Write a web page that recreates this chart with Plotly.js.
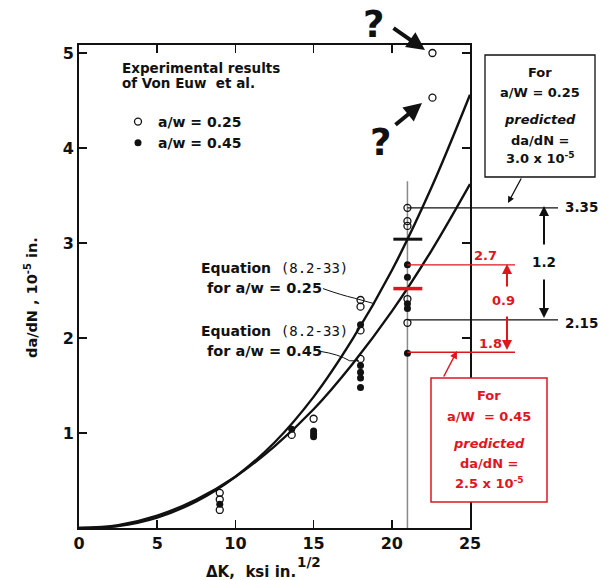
<!DOCTYPE html>
<html>
<head>
<meta charset="utf-8">
<script src="https://cdn.plot.ly/plotly-3.0.1.min.js"></script>
<style>html,body{margin:0;padding:0;background:#fff;}#chart{width:604px;height:580px;}</style>
</head>
<body>
<div id="chart"></div>
<script>
// ---- data ----
const xTickVals = [0, 5, 10, 15, 20, 25];
const yTickVals = [1, 2, 3, 4, 5];

// Open circles: a/w = 0.25
const open025X = [9, 9, 9, 13.6, 15, 18, 18, 18, 18, 21, 21, 21, 21, 21, 22.6, 22.6];
const open025Y = [0.37, 0.30, 0.19, 0.98, 1.15, 2.40, 2.33, 2.08, 1.78, 3.37, 3.23, 3.18, 2.41, 2.16, 5.0, 4.53];

// Filled circles: a/w = 0.45
const fill045X = [9, 13.6, 15, 15, 15, 18, 18, 18, 18, 18, 21, 21, 21, 21, 21];
const fill045Y = [0.25, 1.04, 1.02, 0.99, 0.96, 2.14, 1.71, 1.64, 1.58, 1.48, 2.77, 2.64, 2.36, 2.31, 1.84];

// Equation (8.2-33) curves
const curveX    = [0, 2.5, 5, 7.5, 10, 12.5, 15, 17.5, 20, 22.5, 25];
const curve025Y = [0, 0.02, 0.11, 0.28, 0.54, 0.90, 1.38, 1.99, 2.71, 3.57, 4.56];
const curve045Y = [0, 0.03, 0.13, 0.30, 0.54, 0.86, 1.25, 1.73, 2.28, 2.91, 3.62];

// predicted values at dK = 21
const predX = 21;
const pred025 = 3.04;
const pred045 = 2.52;
// scatter band levels at dK = 21
const band025 = [3.37, 2.19];
const band045 = [2.77, 1.85];

// ---- layout helpers ----
const L = 79, R = 134, T = 45, B = 52, W = 604, H = 580;
const xMax = 25, yMax = 5.084;
const P = px => (px - L) / (W - L - R);          // page px -> paper x
const Q = py => (H - B - py) / (H - T - B);      // page py -> paper y
const dx = v => v / xMax;                          // data x -> paper x
const dy = v => v / yMax;                          // data y -> paper y

const FONT = 'DejaVu Sans, Verdana, sans-serif';
const RED = '#e0161f';
const INK = '#111111';

const traces = [
  {x: curveX, y: curve025Y, mode: 'lines', line: {shape: 'spline', color: INK, width: 2.4}, showlegend: false, hoverinfo: 'skip'},
  {x: curveX, y: curve045Y, mode: 'lines', line: {shape: 'spline', color: INK, width: 2.4}, showlegend: false, hoverinfo: 'skip'},
  {x: open025X, y: open025Y, mode: 'markers', name: 'a/w = 0.25',
   marker: {symbol: 'circle-open', size: 7, color: INK, line: {width: 1.3, color: INK}}},
  {x: fill045X, y: fill045Y, mode: 'markers', name: 'a/w = 0.45',
   marker: {symbol: 'circle', size: 7, color: INK}}
];

function bold(size, color) { return {family: FONT, size: size, color: color || INK, weight: 'bold'}; }
function txt(text, px, py, opts) {
  return Object.assign({
    text: text, xref: 'paper', yref: 'paper', x: P(px), y: Q(py),
    showarrow: false, xanchor: 'center', yanchor: 'middle', font: bold(13)
  }, opts || {});
}
function arrow(hx, hy, tx, ty, color, width, size) {
  return {
    text: '', xref: 'paper', yref: 'paper', x: P(hx), y: Q(hy),
    ax: tx - hx, ay: ty - hy, showarrow: true, arrowhead: 2,
    arrowsize: size || 1, arrowwidth: width || 1.5, arrowcolor: color || INK, standoff: 0
  };
}
const EQ = 'Equation  <span style="font-family:DejaVu Sans Mono, monospace;font-weight:normal">(8.2-33)</span>';

const annotations = [
  // question marks
  txt('?', 373, 24, {font: bold(37)}),
  txt('?', 380, 142, {font: bold(37)}),
  arrow(425, 50, 392, 27, INK, 4, 0.9),
  arrow(422, 103, 394, 126, INK, 4, 0.9),
  // legend heading
  txt('Experimental results', 201, 68, {font: bold(13.5)}),
  txt('of Von Euw  et al.', 188, 83, {font: bold(13.5)}),
  // equation labels
  txt(EQ, 199, 268, {xanchor: 'left', font: bold(14)}),
  txt('for a/w = 0.25', 205, 288, {xanchor: 'left', font: bold(14.5)}),
  txt(EQ, 199, 331, {xanchor: 'left', font: bold(14)}),
  txt('for a/w = 0.45', 205, 351, {xanchor: 'left', font: bold(14.5)}),
  // axis titles
  txt('\u0394K,  ksi in.', 204, 572, {xanchor: 'left', font: bold(15)}),
  txt('1/2', 295, 562, {xanchor: 'left', font: bold(13.5)}),
  txt('da/dN , 10<sup>-5</sup> in.', 31, 298, {textangle: -90, font: bold(14.5)}),
  // black box text
  txt('For', 540, 72),
  txt('a/W = 0.25', 540, 92),
  txt('<i>predicted</i>', 540, 120),
  txt('da/dN =', 540, 140),
  txt('3.0 x 10<sup>-5</sup>', 540, 158),
  arrow(508, 203, 522, 177, INK, 1.3, 1),
  // black levels
  txt('3.35', 581, 207, {font: bold(13.5)}),
  txt('2.15', 581, 323, {font: bold(13.5)}),
  txt('1.2', 544, 262, {font: bold(13.5)}),
  arrow(544, 206, 544, 246, INK, 2, 1),
  arrow(544, 318, 544, 278, INK, 2, 1),
  // red levels
  txt('2.7', 485, 255, {font: bold(13, RED)}),
  txt('0.9', 503, 300, {font: bold(13, RED)}),
  txt('1.8', 491, 343, {font: bold(13, RED)}),
  arrow(507, 264, 507, 288, RED, 2, 1),
  arrow(507, 350, 507, 315, RED, 2, 1),
  // red box text
  txt('For', 489, 395, {font: bold(13, RED)}),
  txt('a/W  = 0.45', 489, 416, {font: bold(13, RED)}),
  txt('<i>predicted</i>', 489, 443, {font: bold(13, RED)}),
  txt('da/dN =', 489, 463, {font: bold(13, RED)}),
  txt('2.5 x 10<sup>-5</sup>', 489, 483, {font: bold(13, RED)}),
  arrow(457, 351, 443, 378, RED, 1.5, 1)
];

const shapes = [
  // vertical guide at dK = 21
  {type: 'line', xref: 'x', yref: 'y', x0: predX, x1: predX, y0: 0, y1: 3.65, line: {color: '#8a8a8a', width: 1.5}, layer: 'below'},
  // predicted bars
  {type: 'line', xref: 'x', yref: 'y', x0: 20.1, x1: 21.95, y0: pred025, y1: pred025, line: {color: INK, width: 3}},
  {type: 'line', xref: 'x', yref: 'y', x0: 20.1, x1: 21.95, y0: pred045, y1: pred045, line: {color: RED, width: 3.5}},
  // band lines
  {type: 'line', xref: 'paper', yref: 'paper', x0: dx(predX), x1: P(558), y0: dy(band025[0]), y1: dy(band025[0]), line: {color: INK, width: 1.3}},
  {type: 'line', xref: 'paper', yref: 'paper', x0: dx(predX), x1: P(558), y0: dy(band025[1]), y1: dy(band025[1]), line: {color: INK, width: 1.3}},
  {type: 'line', xref: 'paper', yref: 'paper', x0: dx(predX), x1: P(515), y0: dy(band045[0]), y1: dy(band045[0]), line: {color: RED, width: 1.3}},
  {type: 'line', xref: 'paper', yref: 'paper', x0: dx(predX), x1: P(515), y0: dy(band045[1]), y1: dy(band045[1]), line: {color: RED, width: 1.3}},
  // equation leader lines
  {type: 'path', xref: 'x', yref: 'y', path: 'M 15.6 2.52 Q 16.8 2.45 17.6 2.42 L 18.9 2.36', line: {color: INK, width: 1}},
  {type: 'path', xref: 'x', yref: 'y', path: 'M 15.4 1.86 Q 16.6 1.83 17.3 1.76 L 17.9 1.76', line: {color: INK, width: 1}},
  // boxes
  {type: 'rect', xref: 'paper', yref: 'paper', x0: P(485), x1: P(595), y0: Q(55), y1: Q(177), line: {color: INK, width: 1.3}, fillcolor: 'rgba(255,255,255,0)'},
  {type: 'rect', xref: 'paper', yref: 'paper', x0: P(431), x1: P(547), y0: Q(378), y1: Q(502), line: {color: RED, width: 1.5}, fillcolor: '#ffffff'}
];

const axisCommon = {
  showgrid: false, zeroline: false, showline: true, linecolor: INK, linewidth: 2,
  mirror: 'ticks', ticks: 'inside', ticklen: 8, tickwidth: 1.5, tickcolor: INK,
  tickfont: bold(16), fixedrange: true
};

const layout = {
  width: W, height: H,
  margin: {l: L, r: R, t: T, b: B, pad: 0},
  paper_bgcolor: '#ffffff', plot_bgcolor: '#ffffff',
  xaxis: Object.assign({}, axisCommon, {range: [0, xMax], tickmode: 'array', tickvals: xTickVals, ticktext: xTickVals.map(String), ticklabelstandoff: 0}),
  yaxis: Object.assign({}, axisCommon, {range: [0, yMax], tickmode: 'array', tickvals: yTickVals, ticktext: yTickVals.map(String), ticklabelstandoff: 0}),
  showlegend: true,
  legend: {x: P(118), y: Q(106), xanchor: 'left', yanchor: 'top', bgcolor: 'rgba(0,0,0,0)',
           font: bold(14), itemwidth: 30, tracegroupgap: 0},
  annotations: annotations,
  shapes: shapes
};

Plotly.newPlot('chart', traces, layout, {staticPlot: true, displayModeBar: false});
</script>
</body>
</html>
